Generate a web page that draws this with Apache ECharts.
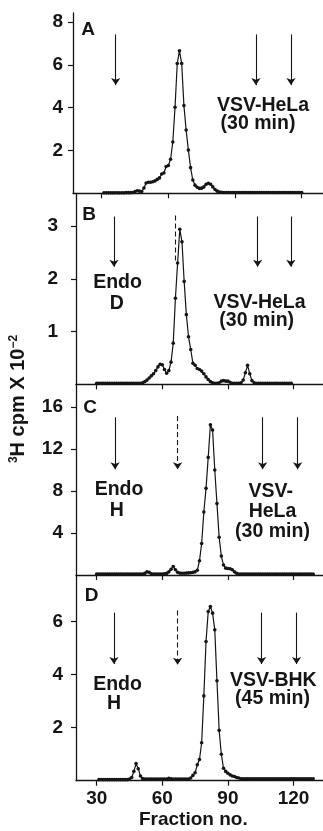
<!DOCTYPE html>
<html>
<head>
<meta charset="utf-8">
<script src="https://cdn.jsdelivr.net/npm/echarts@6/dist/echarts.min.js"></script>
<style>
  html, body { margin: 0; padding: 0; background: #fff; }
  #chart { width: 323px; height: 831px; }
</style>
</head>
<body>
<div id="chart"></div>
<script>
// fraction number of the first point in each profile (one point per fraction)
const startA = 31
const startB = 30
const startC = 30
const startD = 31

// 3H cpm x 10^-2, fraction by fraction
const cpmA = [
  0.02, 0.02, 0.02, 0.02, 0.02, 0.02, 0.02, 0.02, 0.02, 0.02, 0.03, 0.03, 0.03, 0.04,
  0.08, 0.12, 0.10, 0.08, 0.25, 0.48, 0.52, 0.52, 0.54, 0.58, 0.65, 0.72, 0.90, 0.95,
  1.25, 1.30, 1.59, 2.40, 4.02, 6.07, 6.66, 6.07, 4.10, 2.96, 2.02, 1.20, 0.62, 0.38,
  0.28, 0.23, 0.24, 0.30, 0.42, 0.47, 0.42, 0.30, 0.18, 0.10, 0.06, 0.05,
  0.04, 0.04, 0.04, 0.04, 0.04, 0.04, 0.04, 0.04, 0.04, 0.04, 0.04, 0.04,
  0.04, 0.04, 0.04, 0.04, 0.04, 0.04, 0.04, 0.04, 0.04, 0.04, 0.04, 0.04,
  0.04, 0.04, 0.04, 0.04, 0.04, 0.04, 0.04, 0.04, 0.04, 0.04, 0.04, 0.04
]
const cpmB = [
  0.02, 0.02, 0.02, 0.02, 0.02, 0.02, 0.02, 0.02, 0.02, 0.02, 0.02, 0.02, 0.02, 0.02,
  0.02, 0.02, 0.02, 0.02, 0.02, 0.02, 0.02,
  0.03, 0.05, 0.08, 0.12, 0.16, 0.20, 0.26, 0.33, 0.38, 0.37, 0.28, 0.21, 0.26, 0.42,
  0.78, 1.63, 2.30, 2.94, 2.70, 1.95, 1.32, 0.90, 0.66, 0.40, 0.36, 0.30, 0.28, 0.25,
  0.20, 0.14, 0.09, 0.05, 0.03, 0.02, 0.02, 0.03, 0.06, 0.07, 0.06, 0.06, 0.04, 0.02,
  0.02, 0.02, 0.02, 0.03, 0.08, 0.22, 0.36, 0.20, 0.07, 0.03,
  0.02, 0.02, 0.02, 0.02, 0.02, 0.02, 0.02, 0.02, 0.02, 0.02, 0.02, 0.02, 0.02, 0.02,
  0.02, 0.02, 0.02
]
const cpmC = [
  0.08, 0.08, 0.08, 0.08, 0.08, 0.08, 0.08, 0.08, 0.08, 0.08, 0.08, 0.08, 0.08, 0.08,
  0.08, 0.08, 0.08, 0.08, 0.08, 0.08, 0.08, 0.08,
  0.15, 0.30, 0.25, 0.12, 0.10, 0.10, 0.10, 0.10, 0.10, 0.12, 0.15, 0.30, 0.55, 0.80,
  0.50, 0.25, 0.18, 0.16, 0.16, 0.18, 0.20, 0.22, 0.25, 0.30, 0.45, 1.35, 3.00, 6.00,
  8.25, 11.2, 14.3, 13.8, 10.0, 6.80, 3.60, 1.80, 0.95, 0.65, 0.62, 0.60, 0.50, 0.30,
  0.16, 0.10,
  0.08, 0.08, 0.08, 0.08, 0.08, 0.08, 0.08, 0.08, 0.08, 0.08, 0.08, 0.08, 0.08, 0.08,
  0.08, 0.08, 0.08, 0.08, 0.08, 0.08, 0.08, 0.08, 0.08, 0.08, 0.08, 0.08, 0.08, 0.08,
  0.08, 0.08, 0.08, 0.08, 0.08, 0.08
]
const cpmD = [
  0.04, 0.04, 0.04, 0.04, 0.04, 0.04, 0.04, 0.04, 0.04, 0.04, 0.04, 0.04, 0.04, 0.04,
  0.06, 0.12, 0.35, 0.65, 0.45, 0.18, 0.08,
  0.06, 0.06, 0.06, 0.06, 0.06, 0.06, 0.06, 0.06, 0.06, 0.06, 0.06, 0.09, 0.07,
  0.06, 0.06, 0.06, 0.06, 0.06, 0.06, 0.06, 0.06,
  0.10, 0.20, 0.30, 0.60, 0.80, 1.43, 3.20, 5.25, 6.38, 6.57, 6.32, 5.69, 3.77, 1.90,
  1.00, 0.47, 0.35, 0.28, 0.22, 0.18, 0.16, 0.12, 0.10,
  0.07, 0.07, 0.07, 0.07, 0.07, 0.07, 0.07, 0.07, 0.07, 0.07, 0.07, 0.07, 0.07, 0.07,
  0.07, 0.07, 0.07, 0.07, 0.07, 0.07, 0.07, 0.07, 0.07, 0.07, 0.07, 0.07, 0.07, 0.07,
  0.07, 0.07, 0.07, 0.07, 0.07, 0.07
]

// marker arrows (fraction no.), solid and dashed
const markersA = [36.3, 99.4, 115.2]
const markersB = [37.9, 103.6, 118.8]
const markersC = [38.4, 105.9, 121.9]
const markersD = [37.9, 105.4, 121.4]
const dashedB = [65.8]
const dashedC = [67.0]
const dashedD = [67.0]

// axis ticks
const ticksA = [2, 4, 6, 8]
const ticksB = [1, 2, 3]
const ticksC = [4, 8, 12, 16]
const ticksD = [2, 4, 6]
const fractionTicks = [30, 60, 90, 120]

const font = '"Liberation Sans", Arial, Helvetica, sans-serif'
const ink = '#151515'

// layout of the four stacked panels
const panels = [
  { data: cpmA, start: startA, ticks: ticksA, markers: markersA, dashed: [],
    grid: { left: 73, top: 13, width: 250, height: 180.3 },
    xMin: 17.08, xMax: 129.6, yMax: 8.43, labelMargin: 10,
    arrow: [7.43, 5.06], dash: [7.43, 5.06], dashHead: true },
  { data: cpmB, start: startB, ticks: ticksB, markers: markersB, dashed: dashedB,
    grid: { left: 76, top: 193.3, width: 247, height: 191 },
    xMin: 20.53, xMax: 133.5, yMax: 3.62, labelMargin: 18,
    arrow: [3.18, 2.23], dash: [3.2, 2.32], dashHead: false },
  { data: cpmC, start: startC, ticks: ticksC, markers: markersC, dashed: dashedC,
    grid: { left: 76, top: 384.3, width: 247, height: 190.7 },
    xMin: 20.53, xMax: 133.5, yMax: 18.16, labelMargin: 13,
    arrow: [15.02, 10.07], dash: [15.14, 10.07], dashHead: true },
  { data: cpmD, start: startD, ticks: ticksD, markers: markersD, dashed: dashedD,
    grid: { left: 76, top: 575, width: 247, height: 205.7 },
    xMin: 20.53, xMax: 133.5, yMax: 7.76, labelMargin: 13,
    arrow: [6.34, 4.4], dash: [6.42, 4.37], dashHead: true }
]

const chart = echarts.init(document.getElementById('chart'), null, { renderer: 'canvas' })

const axisLine = { show: true, onZero: false, lineStyle: { color: ink, width: 1.3 } }
const labelStyle = { fontFamily: font, fontSize: 19, fontWeight: 'bold', color: ink }

const option = {
  animation: false,
  backgroundColor: '#fff',
  grid: panels.map(p => Object.assign({ containLabel: false }, p.grid)),
  xAxis: panels.map((p, i) => ({
    type: 'value',
    gridIndex: i,
    min: p.xMin,
    max: p.xMax,
    axisLine: axisLine,
    axisTick: { show: true, length: 5, lineStyle: { color: ink, width: 1.2 }, customValues: fractionTicks },
    axisLabel: Object.assign({ show: i === 3, margin: 9, customValues: fractionTicks }, labelStyle),
    splitLine: { show: false }
  })),
  yAxis: panels.map((p, i) => ({
    type: 'value',
    gridIndex: i,
    min: 0,
    max: p.yMax,
    axisLine: axisLine,
    axisTick: { show: true, length: 5, lineStyle: { color: ink, width: 1.2 }, customValues: p.ticks },
    axisLabel: Object.assign({ margin: p.labelMargin, customValues: p.ticks }, labelStyle),
    splitLine: { show: false }
  })),
  series: panels.map((p, i) => {
    const arrows = p.markers.map(f => [
      { coord: [f, p.arrow[0]], symbol: 'none' },
      { coord: [f, p.arrow[1]], symbol: 'arrow' }
    ])
    const dashes = p.dashed.map(f => [
      { coord: [f, p.dash[0]], symbol: 'none', lineStyle: { type: [5, 3] } },
      { coord: [f, p.dash[1]], symbol: p.dashHead ? 'arrow' : 'none' }
    ])
    return {
      type: 'line',
      xAxisIndex: i,
      yAxisIndex: i,
      data: p.data.map((v, k) => [p.start + k, v]),
      symbol: 'circle',
      symbolSize: 3.6,
      lineStyle: { color: ink, width: 1.2 },
      itemStyle: { color: ink },
      silent: true,
      markLine: {
        silent: true,
        symbolSize: 7,
        label: { show: false },
        lineStyle: { color: ink, width: 1.1, type: 'solid' },
        emphasis: { disabled: true },
        data: arrows.concat(dashes)
      }
    }
  }),
  graphic: [
    // panel letters
    ...[['A', 88, 30], ['B', 89, 214.5], ['C', 90, 407.5], ['D', 91.5, 596]].map(([t, x, y]) => ({
      type: 'text', x, y,
      style: { text: t, font: 'bold 19px ' + font, fill: ink, align: 'center', verticalAlign: 'middle' }
    })),
    // annotations
    ...[
      ['VSV-HeLa', 263, 106], ['(30 min)', 258, 124],
      ['Endo', 117.5, 283], ['D', 116.7, 303.3], ['VSV-HeLa', 259.5, 303], ['(30 min)', 256.7, 320.5],
      ['Endo', 119, 490], ['H', 116.7, 510.3], ['VSV-', 270.8, 491.2], ['HeLa', 272.5, 511.3], ['(30 min)', 272.5, 531.7],
      ['Endo', 117.5, 684.7], ['H', 114, 703.3], ['VSV-BHK', 273.3, 680.8], ['(45 min)', 272.5, 699]
    ].map(([t, x, y]) => ({
      type: 'text', x, y,
      style: { text: t, font: 'bold 19.5px ' + font, fill: ink, align: 'center', verticalAlign: 'middle' }
    })),
    {
      type: 'text', x: 193.3, y: 820,
      style: { text: 'Fraction no.', font: 'bold 19px ' + font, fill: ink, align: 'center', verticalAlign: 'middle' }
    },
    {
      type: 'text', x: 18, y: 399, rotation: Math.PI / 2,
      style: {
        text: '{s|3}H cpm X 10{s|−2}',
        font: 'bold 20px ' + font,
        fill: ink,
        align: 'center',
        verticalAlign: 'middle',
        rich: {
          s: { fontSize: 12, fontWeight: 'bold', fontFamily: font, fill: ink, verticalAlign: 'top', lineHeight: 20 }
        }
      }
    }
  ]
}

chart.setOption(option)
</script>
</body>
</html>
